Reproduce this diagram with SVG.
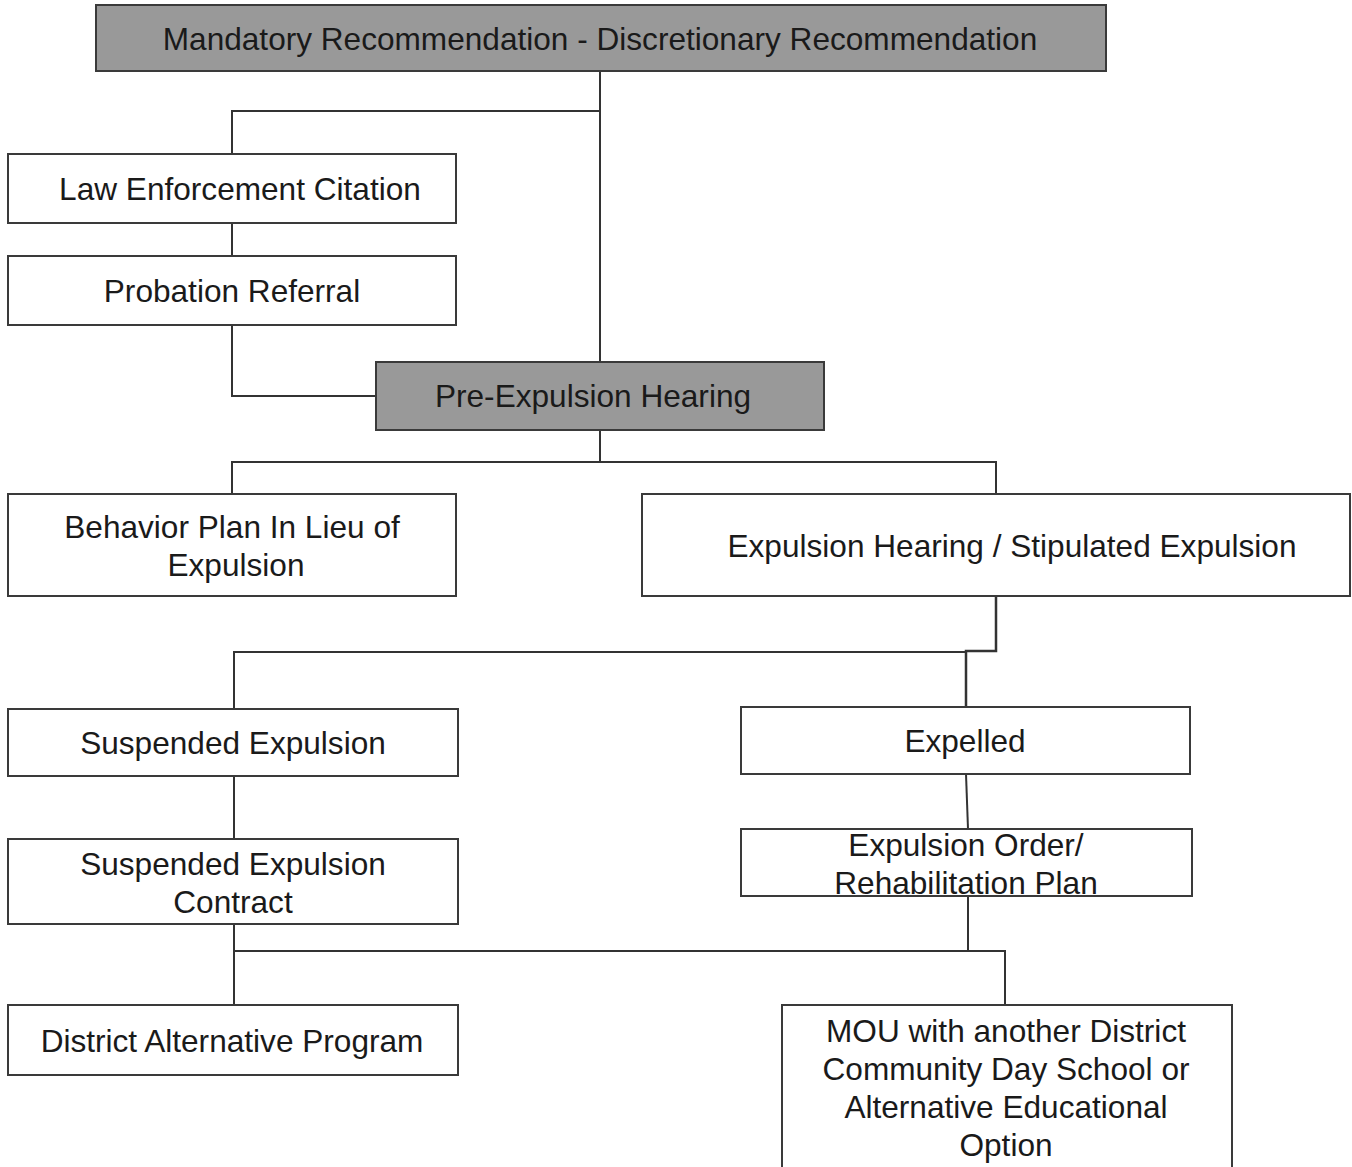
<svg xmlns="http://www.w3.org/2000/svg" width="1352" height="1167" viewBox="0 0 1352 1167">
<style>
.box{fill:#ffffff;stroke:#3a3a3a;stroke-width:2}
.dark{fill:#999999;stroke:#3a3a3a;stroke-width:2}
.t{font-family:"Liberation Sans",Arial,sans-serif;font-size:31.6px;fill:#1a1a1a;text-anchor:middle}
.c{fill:none;stroke:#333333;stroke-width:2}
</style>
<rect width="1352" height="1167" fill="#ffffff"/>
<g id="connectors">
<path class="c" d="M600 71V362"/>
<path class="c" d="M600 111H232V154"/>
<path class="c" d="M232 223V256"/>
<path class="c" d="M232 325V396H376"/>
<path class="c" d="M600 430V462"/>
<path class="c" d="M232 494V462H996V494"/>
<path class="c" d="M996 596V651H966V707" style="stroke-width:2.5"/>
<path class="c" d="M966 652H234V709"/>
<path class="c" d="M234 776V839"/>
<path class="c" d="M966 774L968 829"/>
<path class="c" d="M968 896V951"/>
<path class="c" d="M234 924V1005"/>
<path class="c" d="M234 951H1005V1005"/>
</g>
<g id="n-top">
<rect class="dark" x="96" y="5" width="1010" height="66"/>
<text class="t" x="600" y="50">Mandatory Recommendation - Discretionary Recommendation</text>
</g>
<g id="n-law">
<rect class="box" x="8" y="154" width="448" height="69"/>
<text class="t" x="240" y="200">Law Enforcement Citation</text>
</g>
<g id="n-probation">
<rect class="box" x="8" y="256" width="448" height="69"/>
<text class="t" x="232" y="302">Probation Referral</text>
</g>
<g id="n-pre">
<rect class="dark" x="376" y="362" width="448" height="68"/>
<text class="t" x="593" y="407">Pre-Expulsion Hearing</text>
</g>
<g id="n-behavior">
<rect class="box" x="8" y="494" width="448" height="102"/>
<text class="t" x="232" y="538">Behavior Plan In Lieu of</text>
<text class="t" x="236" y="576">Expulsion</text>
</g>
<g id="n-hearing">
<rect class="box" x="642" y="494" width="708" height="102"/>
<text class="t" x="1012" y="557">Expulsion Hearing / Stipulated Expulsion</text>
</g>
<g id="n-suspended">
<rect class="box" x="8" y="709" width="450" height="67"/>
<text class="t" x="233" y="754">Suspended Expulsion</text>
</g>
<g id="n-expelled">
<rect class="box" x="741" y="707" width="449" height="67"/>
<text class="t" x="965" y="752">Expelled</text>
</g>
<g id="n-contract">
<rect class="box" x="8" y="839" width="450" height="85"/>
<text class="t" x="233" y="875">Suspended Expulsion</text>
<text class="t" x="233" y="913">Contract</text>
</g>
<g id="n-order">
<rect class="box" x="741" y="829" width="451" height="67"/>
<text class="t" x="966" y="856">Expulsion Order/</text>
<text class="t" x="966" y="894">Rehabilitation Plan</text>
</g>
<g id="n-district">
<rect class="box" x="8" y="1005" width="450" height="70"/>
<text class="t" x="232" y="1052">District Alternative Program</text>
</g>
<g id="n-mou">
<rect class="box" x="782" y="1005" width="450" height="180"/>
<text class="t" x="1006" y="1042">MOU with another District</text>
<text class="t" x="1006" y="1080">Community Day School or</text>
<text class="t" x="1006" y="1118">Alternative Educational</text>
<text class="t" x="1006" y="1156">Option</text>
</g>
</svg>
